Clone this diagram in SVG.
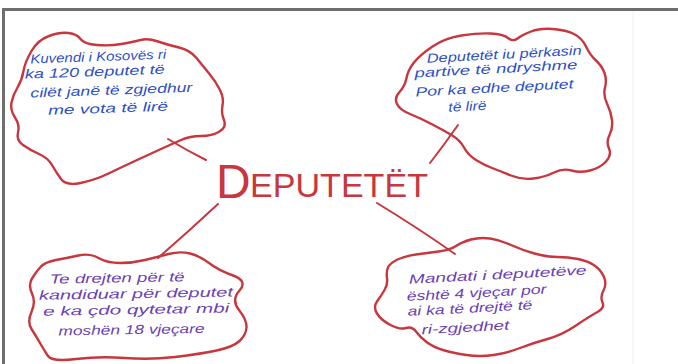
<svg xmlns="http://www.w3.org/2000/svg" width="678" height="364" viewBox="0 0 678 364">
<style>
.cloud{fill:none;stroke:#c8363e;stroke-width:2.4;stroke-linecap:round;stroke-linejoin:round}
.conn{fill:none;stroke:#c8363e;stroke-width:2;stroke-linecap:round}
.blue{fill:#2d50c6;font-family:"Liberation Sans",Arial,sans-serif;font-style:italic;font-size:13px}
.purple{fill:#6a42b4;font-family:"Liberation Sans",Arial,sans-serif;font-style:italic;font-size:13px}
.title{fill:#c8363e;font-family:"Liberation Sans",Arial,sans-serif;font-size:34px}
</style>
<rect x="0" y="0" width="678" height="364" fill="#ffffff"/>
<line x1="633" y1="11" x2="633" y2="364" stroke="#f0f0f0" stroke-width="1"/>
<path d="M3.5 364 V9.5 H678" fill="none" stroke="#6e6e6e" stroke-width="3"/>

<g id="connectors">
<path class="conn" d="M168 139 Q186 150 206 160"/>
<path class="conn" d="M458 125 Q444 145 430 163"/>
<path class="conn" d="M218 204 Q188 232 158 258"/>
<path class="conn" d="M377 203 Q418 228 455 254"/>
</g>

<g id="center">
<text class="title" x="216" y="198"><tspan font-size="48">D</tspan><tspan x="250" y="197" textLength="178" lengthAdjust="spacingAndGlyphs">EPUTETËT</tspan></text>
</g>

<g id="node-top-left">
<path class="cloud" d="M23.5 71 Q25 62 31.5 51 Q38 40 49 36 Q60 32 68.5 33 Q77 34 80.5 39 Q84 44 97 45 Q110 46 121.5 44 Q133 42 140.5 40 Q148 38 158 41.5 Q168 45 179 47.5 Q190 50 196.5 58 Q203 66 209.5 74 Q216 82 220 90 Q224 98 222.5 105.5 Q221 113 224 120 Q227 127 219.5 131.5 Q212 136 201 136 Q190 136 181 140 Q172 144 161 149 Q150 154 136 160.5 Q122 167 108.5 173.5 Q95 180 80.5 183 Q66 186 61 179 Q56 172 52 165 Q48 158 39 154 Q30 150 23 145 Q16 140 18 132.5 Q20 125 15 117.5 Q10 110 11.5 102.5 Q13 95 17.5 87.5 Q22 80 23.5 71 Z"/>
<g transform="rotate(-2 100 80)">
<text class="blue" x="31" y="61" textLength="136" lengthAdjust="spacingAndGlyphs">Kuvendi i Kosovës ri</text>
<text class="blue" x="25" y="76" textLength="140" lengthAdjust="spacingAndGlyphs">ka 120 deputet të</text>
<text class="blue" x="30" y="95" textLength="162" lengthAdjust="spacingAndGlyphs">cilët janë të zgjedhur</text>
<text class="blue" x="47" y="113" textLength="120" lengthAdjust="spacingAndGlyphs">me vota të lirë</text>
</g>
</g>

<g id="node-top-right">
<path class="cloud" d="M414 62.5 Q420 55 432.5 46.5 Q445 38 461.5 35.5 Q478 33 490.5 33.5 Q503 34 508 38 Q513 42 517.5 38.5 Q522 35 531 31.5 Q540 28 553 29 Q566 30 574 34 Q582 38 586 46.5 Q590 55 596 60.5 Q602 66 604.5 73 Q607 80 605 87.5 Q603 95 607 103.5 Q611 112 612 120 Q613 128 609.5 135 Q606 142 609 148.5 Q612 155 606 161.5 Q600 168 590 170.5 Q580 173 571.5 170.5 Q563 168 554 172.5 Q545 177 533.5 178.5 Q522 180 511 175.5 Q500 171 492 168 Q484 165 476 160 Q468 155 464 147.5 Q460 140 451.5 135 Q443 130 431.5 124 Q420 118 410 114 Q400 110 397 104 Q394 98 399.5 92 Q405 86 406.5 78 Q408 70 414 62.5 Z"/>
<g transform="rotate(-3 500 80)">
<text class="blue" x="428" y="59" textLength="155" lengthAdjust="spacingAndGlyphs">Deputetët iu përkasin</text>
<text class="blue" x="415" y="73" textLength="163" lengthAdjust="spacingAndGlyphs">partive të ndryshme</text>
<text class="blue" x="415" y="92" textLength="158" lengthAdjust="spacingAndGlyphs">Por ka edhe deputet</text>
<text class="blue" x="447" y="109" textLength="38" lengthAdjust="spacingAndGlyphs">të lirë</text>
</g>
</g>

<g id="node-bottom-left">
<path class="cloud" d="M32 278.5 Q36 272 40.5 267 Q45 262 56 260 Q67 258 78.5 255.5 Q90 253 98.5 258 Q107 263 120 263 Q133 263 145 260 Q157 257 168.5 254 Q180 251 190 253.5 Q200 256 209 263 Q218 270 233 275.5 Q248 281 239.5 290.5 Q231 300 239 310 Q247 320 246.5 327.5 Q246 335 239.5 341 Q233 347 216.5 350.5 Q200 354 175 357 Q150 360 125 358 Q100 356 76 359 Q52 362 48 356 Q44 350 40 343 Q36 336 31.5 329 Q27 322 31.5 312 Q36 302 32 293.5 Q28 285 32 278.5 Z"/>
<g transform="rotate(-1 140 300)">
<text class="purple" x="50" y="282" textLength="135" lengthAdjust="spacingAndGlyphs">Te drejten për të</text>
<text class="purple" x="39" y="298" textLength="194" lengthAdjust="spacingAndGlyphs">kandiduar për deputet</text>
<text class="purple" x="43" y="314" textLength="186" lengthAdjust="spacingAndGlyphs">e ka çdo qytetar mbi</text>
<text class="purple" x="58" y="334" textLength="146" lengthAdjust="spacingAndGlyphs">moshën 18 vjeçare</text>
</g>
</g>

<g id="node-bottom-right">
<path class="cloud" d="M388 267.5 Q390 263 397.5 259.5 Q405 256 416 254.5 Q427 253 438.5 251.5 Q450 250 456 246 Q462 242 471 239.5 Q480 237 490 238.5 Q500 240 511 245 Q522 250 534.5 253.5 Q547 257 557.5 257 Q568 257 578 259 Q588 261 594.5 265.5 Q601 270 604 277 Q607 284 603.5 290.5 Q600 297 602.5 302.5 Q605 308 597.5 312 Q590 316 576 325.5 Q562 335 547.5 339 Q533 343 520 348 Q507 353 493.5 355 Q480 357 466.5 355 Q453 353 443 350 Q433 347 426.5 342 Q420 337 416 331.5 Q412 326 406 328 Q400 330 390.5 325 Q381 320 377 313.5 Q373 307 377 301.5 Q381 296 384.5 290 Q388 284 387 278 Q386 272 388 267.5 Z"/>
<g transform="rotate(-3 500 300)">
<text class="purple" x="410" y="279" textLength="178" lengthAdjust="spacingAndGlyphs">Mandati i deputetëve</text>
<text class="purple" x="407" y="296" textLength="140" lengthAdjust="spacingAndGlyphs">është 4 vjeçar por</text>
<text class="purple" x="407" y="311" textLength="125" lengthAdjust="spacingAndGlyphs">ai ka të drejtë të</text>
<text class="purple" x="420" y="330" textLength="88" lengthAdjust="spacingAndGlyphs">ri-zgjedhet</text>
</g>
</g>
</svg>
